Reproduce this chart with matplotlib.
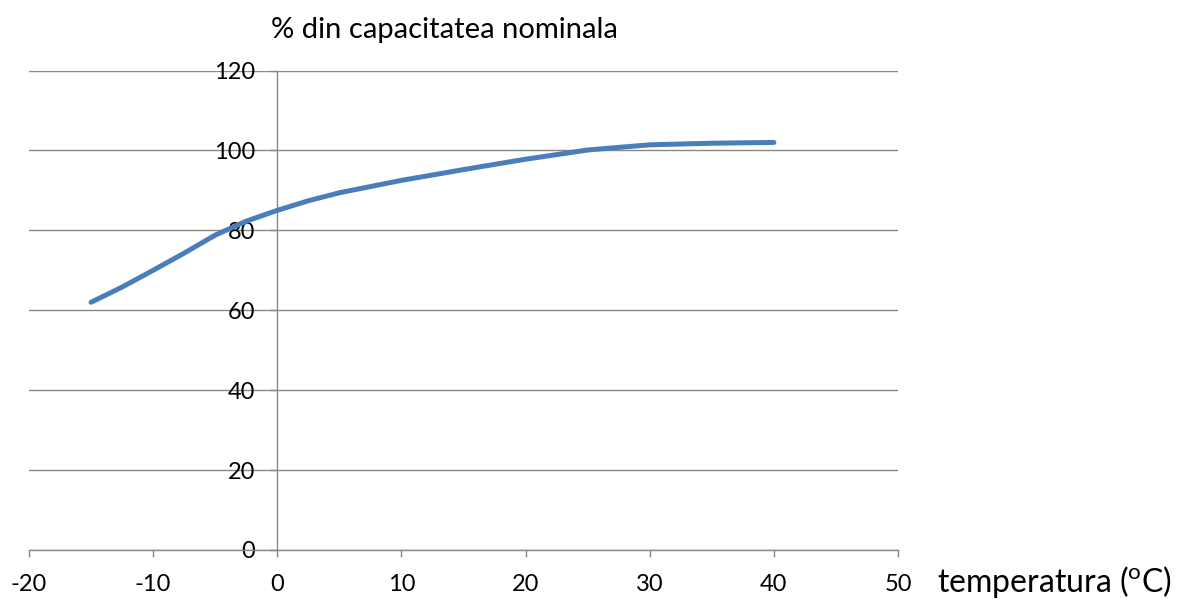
import matplotlib
matplotlib.use("Agg")
import matplotlib.pyplot as plt

# values
temperature = [-15, -12.5, -10, -7.5, -5, -2.5, 0, 2.5, 5, 10, 15, 20, 25, 30, 35, 40]
capacity = [62, 65.8, 70, 74.3, 78.8, 82.3, 85, 87.4, 89.4, 92.5, 95.2, 97.8, 100.1, 101.4, 101.8, 102]

x_ticks = [-20, -10, 0, 10, 20, 30, 40, 50]
y_ticks = [0, 20, 40, 60, 80, 100, 120]

plt.rcParams['font.family'] = ['Lato', 'DejaVu Sans']
plt.rcParams['mathtext.fontset'] = 'custom'
plt.rcParams['mathtext.rm'] = 'Lato'
plt.rcParams['axes.unicode_minus'] = False

grey = '#888888'

fig = plt.figure(figsize=(11.84, 5.99), dpi=100)
ax = fig.add_axes([29 / 1184, 49 / 599, 869 / 1184, 479.5 / 599])

ax.plot(temperature, capacity, color='#4A7EBB', lw=3.6,
        solid_capstyle='round', solid_joinstyle='round', zorder=3)

ax.set_xlim(-20, 50)
ax.set_ylim(0, 120)
ax.set_xticks(x_ticks)
ax.set_yticks(y_ticks)

# y axis crosses at x = 0
ax.spines['left'].set_position(('data', 0))
ax.spines['top'].set_visible(False)
ax.spines['right'].set_visible(False)
for s in ('left', 'bottom'):
    ax.spines[s].set_color(grey)
    ax.spines[s].set_linewidth(1.0)

ax.yaxis.grid(True, color=grey, lw=1.0)
ax.set_axisbelow(True)

ax.tick_params(axis='both', direction='out', length=5, width=1.0,
               color=grey, labelsize=17, labelcolor='black')
ax.tick_params(axis='y', pad=11)
ax.tick_params(axis='x', pad=12)

fig.text(444 / 1184, 1 - 30 / 599, '% din capacitatea nominala',
         ha='center', va='center', fontsize=21)
fig.text(937 / 1184, 1 - 582 / 599, r'temperatura ($^{\mathrm{o}}$C)',
         ha='left', va='center', fontsize=23)

fig.savefig('out.png', dpi=100)
